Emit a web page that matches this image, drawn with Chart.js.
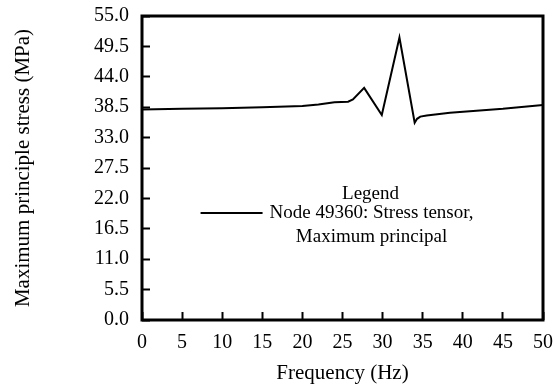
<!DOCTYPE html>
<html>
<head>
<meta charset="utf-8">
<script src="https://cdn.jsdelivr.net/npm/chart.js@4/dist/chart.umd.min.js"></script>
<style>
  body { margin: 0; background: #fff; }
  canvas { display: block; }
</style>
</head>
<body>
<canvas id="stressChart" width="555" height="387"></canvas>
<script>
// === Data ===
const freqHz = [0, 5, 10, 15, 20, 22, 24, 25.7, 26.3, 27.7, 29.9, 32.1, 34.0, 34.3, 34.7, 35.5, 38.4, 45, 50];
const stressMPa = [38.1, 38.2, 38.3, 38.5, 38.7, 39.0, 39.4, 39.5, 39.9, 42.0, 37.1, 51.1, 35.7, 36.4, 36.8, 37.0, 37.5, 38.2, 38.9];
const xTicks = [0, 5, 10, 15, 20, 25, 30, 35, 40, 45, 50];
const yTicks = [0, 5.5, 11, 16.5, 22, 27.5, 33, 38.5, 44, 49.5, 55];
const legendTitle = "Legend";
const seriesLabel = ["Node 49360: Stress tensor,", "Maximum principal"];

const serif = "'Liberation Serif', 'Times New Roman', serif";

// no extra label padding, layout.padding decides the plot box
const noPad = (s) => {
    s.paddingTop = 0;
    s.paddingBottom = 0;
    s.paddingLeft = 0;
    s.paddingRight = 0;
};

// frame + legend drawn inside the plot
const framePlugin = {
    id: "frame",
    afterDatasetsDraw(chart) {
        const { ctx, chartArea: a } = chart;
        ctx.save();
        ctx.strokeStyle = "#000";
        ctx.lineWidth = 3;
        ctx.strokeRect(a.left, a.top, a.right - a.left, a.bottom - a.top);

        const cx = a.left + (a.right - a.left) * 0.57;
        const cy = a.top + (a.bottom - a.top) * 0.648;
        ctx.fillStyle = "#000";
        ctx.font = "19px " + serif;
        ctx.textBaseline = "middle";
        ctx.textAlign = "center";
        ctx.fillText(legendTitle, cx, cy - 19);
        ctx.textAlign = "left";
        const lx = cx - 170;
        ctx.lineWidth = 2;
        ctx.beginPath();
        ctx.moveTo(lx, cy);
        ctx.lineTo(lx + 62, cy);
        ctx.stroke();
        ctx.fillText(seriesLabel[0], lx + 69, cy);
        ctx.textAlign = "center";
        ctx.fillText(seriesLabel[1], cx + 1, cy + 24);
        ctx.restore();
    },
};

new Chart(document.getElementById("stressChart").getContext("2d"), {
    type: "line",
    data: {
        datasets: [{
            label: seriesLabel.join(" "),
            data: freqHz.map((f, i) => ({ x: f, y: stressMPa[i] })),
            borderColor: "#000",
            borderWidth: 2,
            pointRadius: 0,
            tension: 0,
            fill: false,
        }],
    },
    options: {
        responsive: false,
        animation: false,
        layout: { padding: { top: 16, right: 12, left: 0, bottom: 0 } },
        scales: {
            x: {
                type: "linear",
                min: 0,
                max: 50,
                afterBuildTicks: (s) => { s.ticks = xTicks.map((v) => ({ value: v })); },
                afterFit: (s) => { s.height = 67; noPad(s); },
                ticks: { color: "#000", padding: 19, font: { family: serif, size: 20 }, maxRotation: 0 },
                grid: { drawOnChartArea: false, tickLength: -8, tickWidth: 2, color: "#000" },
                border: { display: false },
                title: { display: true, text: "Frequency (Hz)", color: "#000", font: { family: serif, size: 21 }, padding: { bottom: 1 } },
            },
            y: {
                min: 0,
                max: 55,
                afterBuildTicks: (s) => { s.ticks = yTicks.map((v) => ({ value: v })); },
                afterFit: (s) => { s.width = 142; noPad(s); },
                ticks: { color: "#000", padding: 21, font: { family: serif, size: 20 }, callback: (v) => v.toFixed(1) },
                grid: { drawOnChartArea: false, tickLength: -8, tickWidth: 2, color: "#000" },
                border: { display: false },
                title: { display: true, text: "Maximum principle stress (MPa)", color: "#000", font: { family: serif, size: 21 }, padding: { top: 11 } },
            },
        },
        plugins: {
            legend: { display: false },
            tooltip: { enabled: false },
        },
    },
    plugins: [framePlugin],
});
</script>
</body>
</html>
